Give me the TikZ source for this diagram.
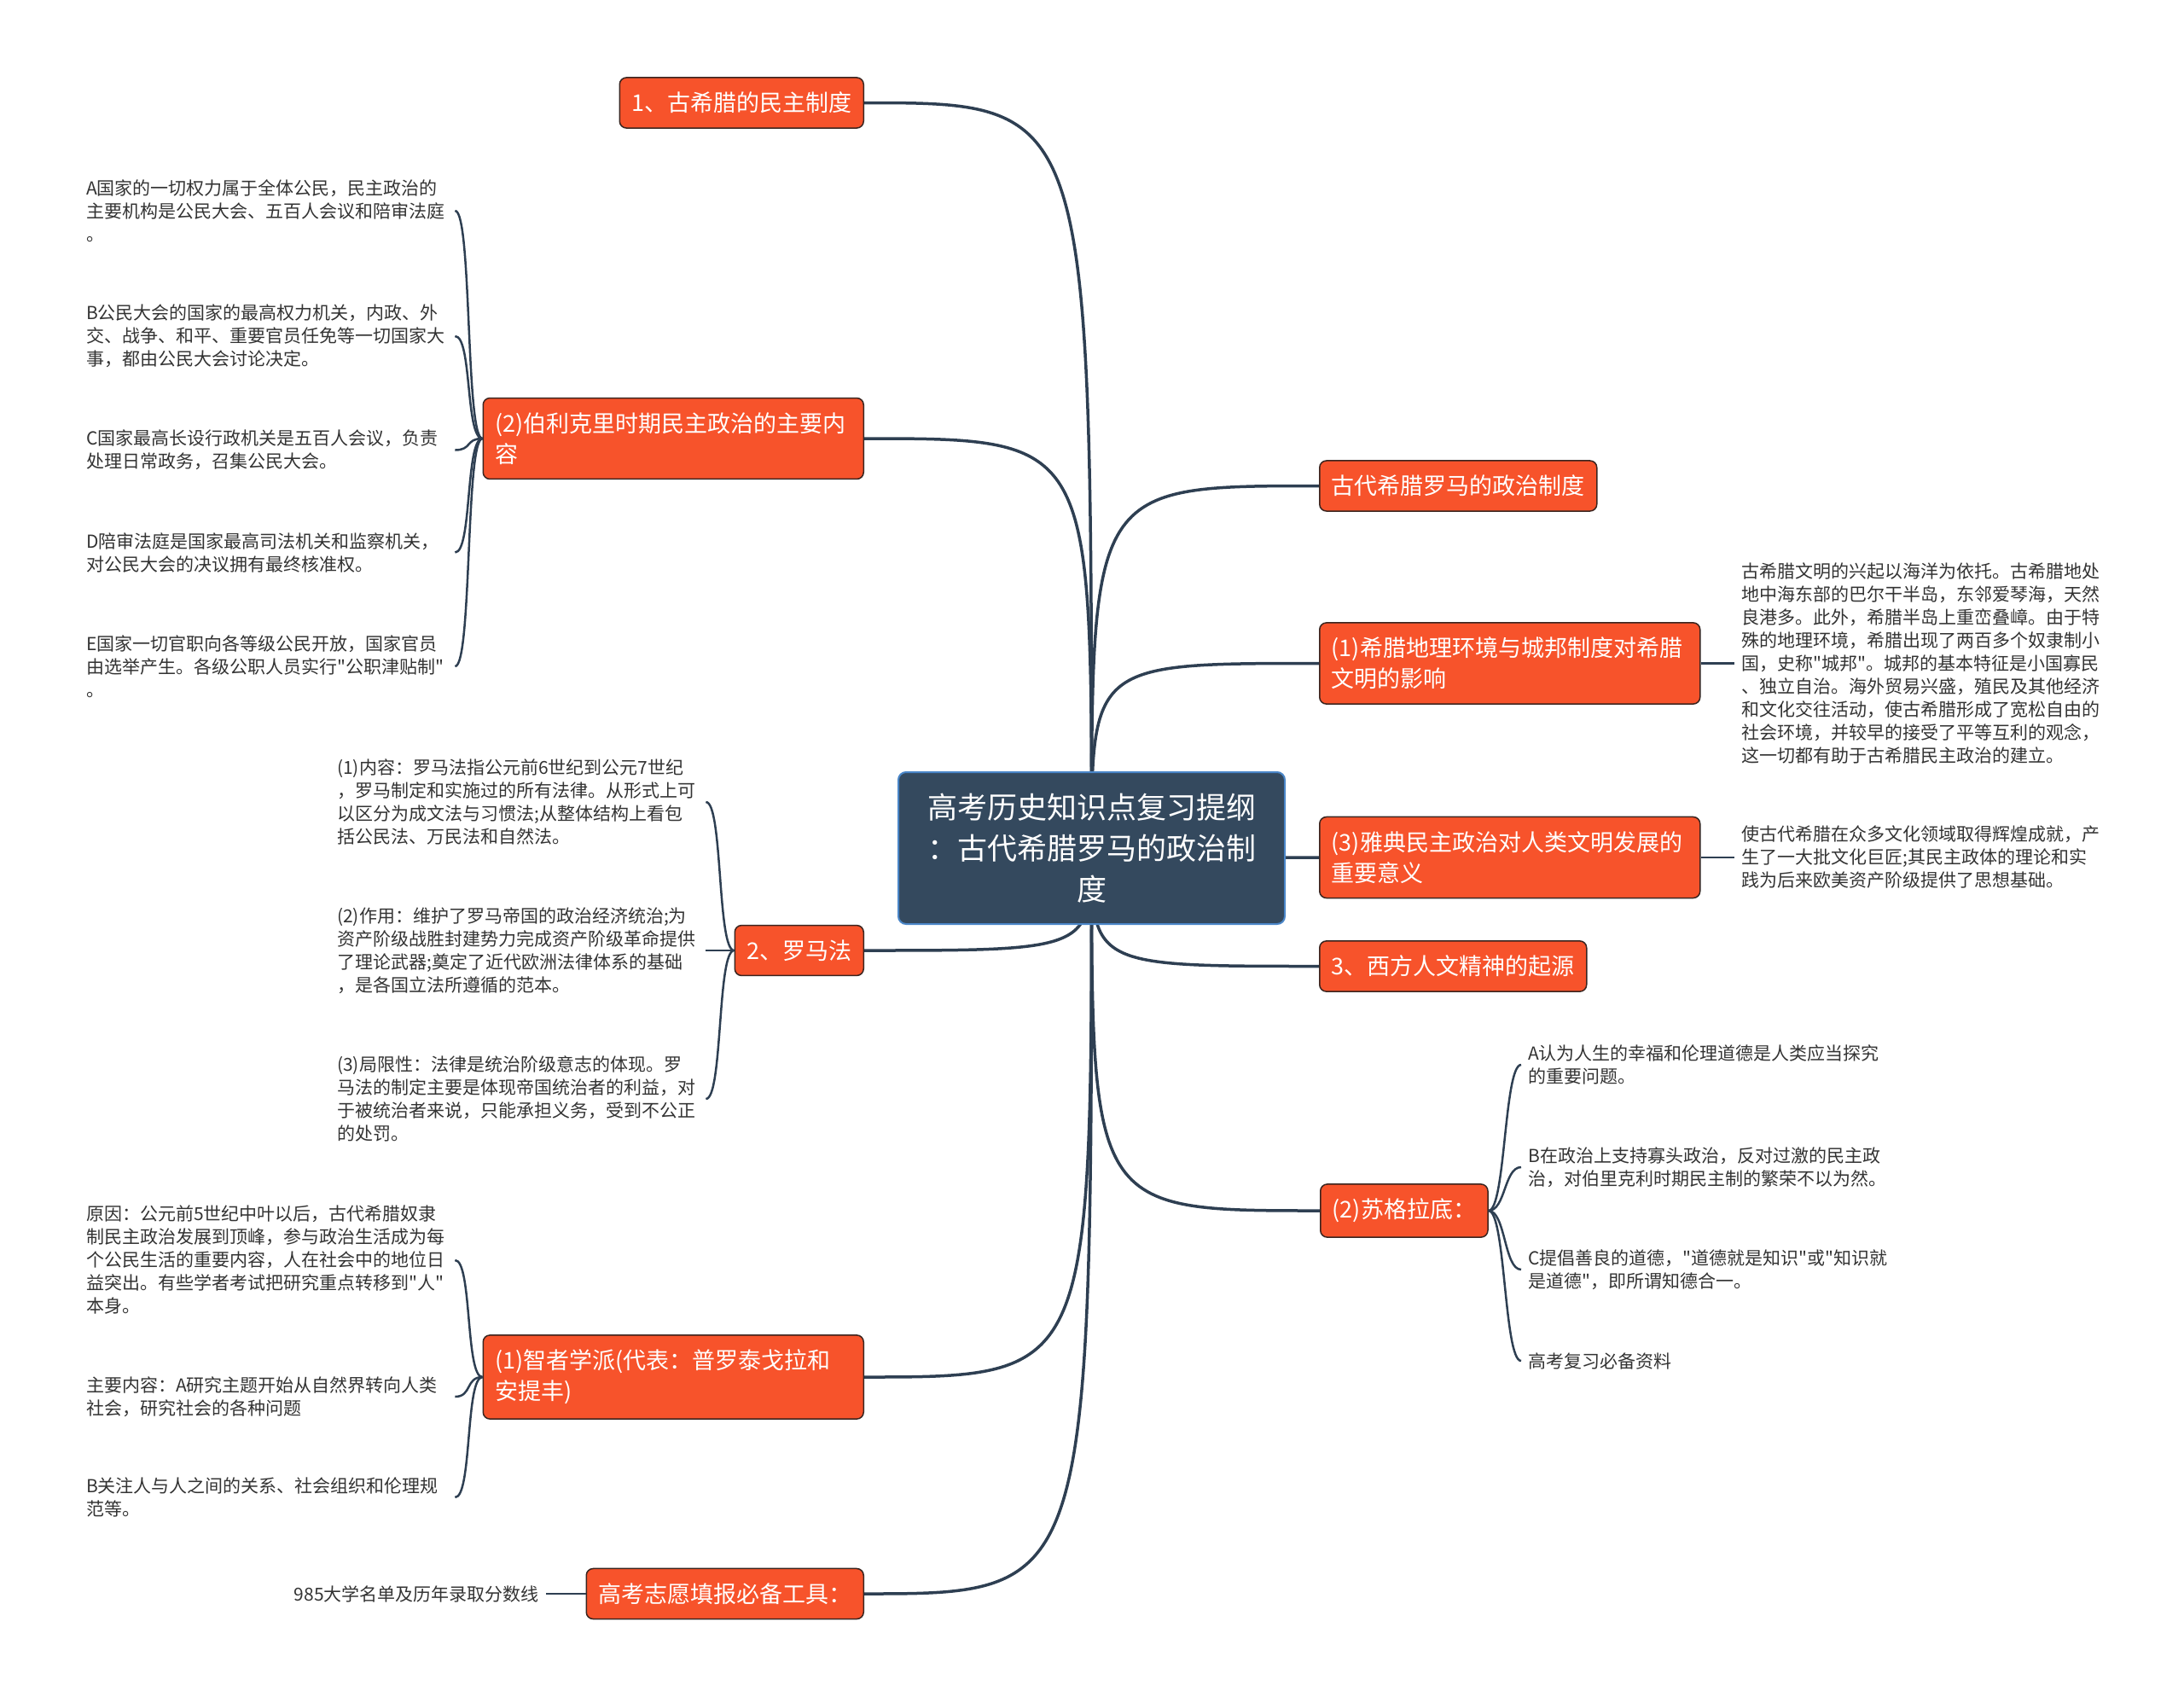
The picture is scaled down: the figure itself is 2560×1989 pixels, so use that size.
\documentclass[tikz,border=0pt]{standalone}
\usepackage{fontspec}
\newfontfamily\hei{Noto Sans CJK SC}
\usepackage{tikz}
\usetikzlibrary{backgrounds}
\definecolor{RootSlate}{HTML}{34495E}
\definecolor{RootEdge}{HTML}{4A86C8}
\definecolor{TopicRed}{HTML}{F7532B}
\definecolor{TopicEdge}{HTML}{3A2520}
\definecolor{LinkSlate}{HTML}{2E3F52}
\definecolor{LeafInk}{HTML}{333333}

\begin{document}
\begin{tikzpicture}[x=1pt,y=-1pt,
      root/.style={draw=RootEdge,line width=2pt,fill=RootSlate,rounded corners=9pt,text=white,font=\hei\fontsize{35}{48}\selectfont,align=center,minimum width=453pt,minimum height=178pt},
      topic/.style={draw=TopicEdge,line width=1.5pt,fill=TopicRed,rounded corners=8pt,text=white,font=\hei\fontsize{27}{36}\selectfont,align=left,inner xsep=14pt,inner ysep=17pt},
      wide/.style={topic,text width=418pt},
      leaf/.style={text=LeafInk,font=\hei\fontsize{21}{27}\selectfont,align=left,inner sep=8pt},
      para/.style={leaf,text width=424pt},
      branch/.style={line width=3.5pt,draw=LinkSlate},
      link/.style={line width=2.5pt,draw=LinkSlate},
      leftlink/.style={link,out=180,in=0,distance=20pt},
      rightlink/.style={link,out=0,in=180,distance=20pt}
    ]
      \useasboundingbox (0,0) rectangle (2560,1989);
      % centre and main topics
      \node[root] (root) at (1279.5,994) {高考历史知识点复习提纲\\：古代希腊罗马的政治制\\度};
      \node[topic,anchor=east] (n1) at (1013,120.5) {1、古希腊的民主制度};
      \node[wide,anchor=east] (per) at (1013,514) {(2)伯利克里时期民主政治的主要内\\容};
      \node[topic,anchor=east] (rome) at (1013,1114) {2、罗马法};
      \node[wide,anchor=east] (soph) at (1013,1614) {(1)智者学派(代表：普罗泰戈拉和\\安提丰)};
      \node[topic,anchor=east] (tool) at (1013,1868) {高考志愿填报必备工具：};
      \node[topic,anchor=west] (gr) at (1546,569.5) {古代希腊罗马的政治制度};
      \node[wide,anchor=west] (geo) at (1546,777.5) {(1)希腊地理环境与城邦制度对希腊\\文明的影响};
      \node[wide,anchor=west] (sig) at (1546,1005) {(3)雅典民主政治对人类文明发展的\\重要意义};
      \node[topic,anchor=west] (hum) at (1546,1132.5) {3、西方人文精神的起源};
      \node[topic,anchor=west] (socr) at (1547,1419) {(2)苏格拉底：};

      % Pericles
      \node[para,anchor=west] (perA) at (93,247) {A国家的一切权力属于全体公民，民主政治的\\主要机构是公民大会、五百人会议和陪审法庭\\。};
      \node[para,anchor=west] (perB) at (93,394) {B公民大会的国家的最高权力机关，内政、外\\交、战争、和平、重要官员任免等一切国家大\\事，都由公民大会讨论决定。};
      \node[para,anchor=west] (perC) at (93,527.5) {C国家最高长设行政机关是五百人会议，负责\\处理日常政务，召集公民大会。};
      \node[para,anchor=west] (perD) at (93,647.5) {D陪审法庭是国家最高司法机关和监察机关，\\对公民大会的决议拥有最终核准权。};
      \node[para,anchor=west] (perE) at (93,781) {E国家一切官职向各等级公民开放，国家官员\\由选举产生。各级公职人员实行"公职津贴制"\\。};

      % Roman law
      \node[para,anchor=west] (romeA) at (387,940) {(1)内容：罗马法指公元前6世纪到公元7世纪\\，罗马制定和实施过的所有法律。从形式上可\\以区分为成文法与习惯法;从整体结构上看包\\括公民法、万民法和自然法。};
      \node[para,anchor=west] (romeB) at (387,1114) {(2)作用：维护了罗马帝国的政治经济统治;为\\资产阶级战胜封建势力完成资产阶级革命提供\\了理论武器;奠定了近代欧洲法律体系的基础\\，是各国立法所遵循的范本。};
      \node[para,anchor=west] (romeC) at (387,1288) {(3)局限性：法律是统治阶级意志的体现。罗\\马法的制定主要是体现帝国统治者的利益，对\\于被统治者来说，只能承担义务，受到不公正\\的处罚。};

      % Sophists
      \node[para,anchor=west] (sophA) at (93,1477) {原因：公元前5世纪中叶以后，古代希腊奴隶\\制民主政治发展到顶峰，参与政治生活成为每\\个公民生活的重要内容，人在社会中的地位日\\益突出。有些学者考试把研究重点转移到"人"\\本身。};
      \node[para,anchor=west] (sophB) at (93,1637) {主要内容：A研究主题开始从自然界转向人类\\社会，研究社会的各种问题};
      \node[para,anchor=west] (sophC) at (93,1755) {B关注人与人之间的关系、社会组织和伦理规\\范等。};

      \node[leaf,anchor=east] (toolT) at (640,1868) {985大学名单及历年录取分数线};

      % right side
      \node[para,anchor=west] (geoT) at (2033,777.5) {古希腊文明的兴起以海洋为依托。古希腊地处\\地中海东部的巴尔干半岛，东邻爱琴海，天然\\良港多。此外，希腊半岛上重峦叠嶂。由于特\\殊的地理环境，希腊出现了两百多个奴隶制小\\国，史称"城邦"。城邦的基本特征是小国寡民\\、独立自治。海外贸易兴盛，殖民及其他经济\\和文化交往活动，使古希腊形成了宽松自由的\\社会环境，并较早的接受了平等互利的观念，\\这一切都有助于古希腊民主政治的建立。};
      \node[para,anchor=west] (sigT) at (2033,1005) {使古代希腊在众多文化领域取得辉煌成就，产\\生了一大批文化巨匠;其民主政体的理论和实\\践为后来欧美资产阶级提供了思想基础。};

      % Socrates
      \node[leaf,anchor=west] (socrA) at (1783,1248) {A认为人生的幸福和伦理道德是人类应当探究\\的重要问题。};
      \node[leaf,anchor=west] (socrB) at (1783,1368) {B在政治上支持寡头政治，反对过激的民主政\\治，对伯里克利时期民主制的繁荣不以为然。};
      \node[leaf,anchor=west] (socrC) at (1783,1488) {C提倡善良的道德，"道德就是知识"或"知识就\\是道德"，即所谓知德合一。};
      \node[leaf,anchor=west] (socrD) at (1783,1595) {高考复习必备资料};

      \begin{scope}[on background layer]
        \foreach \t in {n1,per,rome,soph,tool}
          \draw[branch] (root.center) .. controls (root.center |- \t.east) .. (\t.east);
        \foreach \t in {gr,geo,sig,hum,socr}
          \draw[branch] (root.center) .. controls (root.center |- \t.west) .. (\t.west);
      \end{scope}

      \foreach \t in {perA,perB,perC,perD,perE}
        \draw[leftlink] (per.west) to (\t.east);
      \foreach \t in {romeA,romeB,romeC}
        \draw[leftlink] (rome.west) to (\t.east);
      \foreach \t in {sophA,sophB,sophC}
        \draw[leftlink] (soph.west) to (\t.east);
      \foreach \t in {socrA,socrB,socrC,socrD}
        \draw[rightlink] (socr.east) to (\t.west);
      \draw[link] (tool.west) -- (toolT.east);
      \draw[link] (geo.east) -- (geoT.west);
      \draw[link] (sig.east) -- (sigT.west);
    \end{tikzpicture}
\end{document}
